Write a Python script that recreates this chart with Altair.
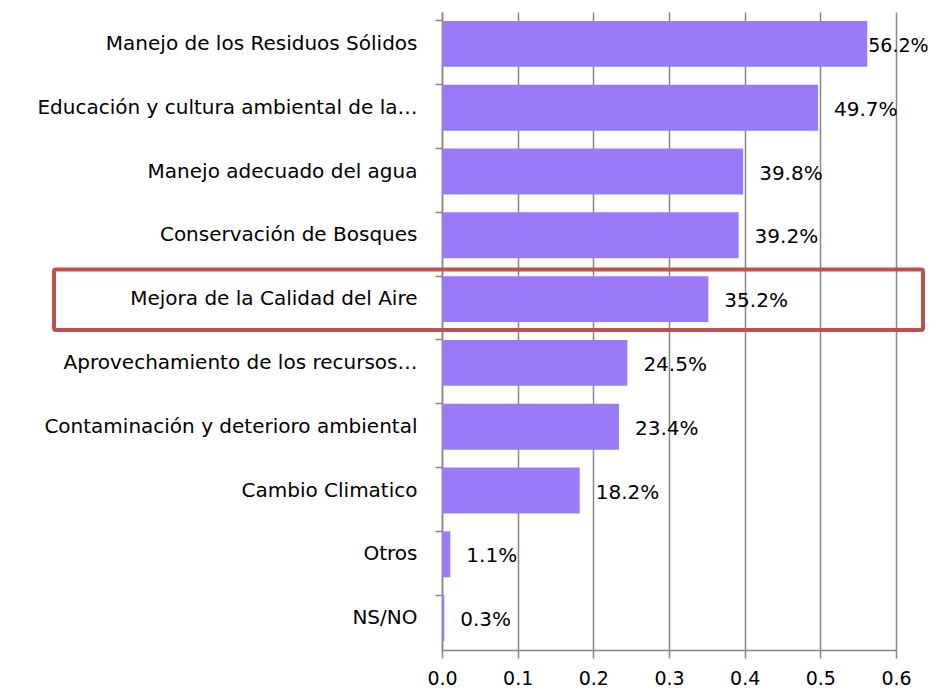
import altair as alt
import pandas as pd

categories = [
    "Manejo de los Residuos Sólidos",
    "Educación y cultura ambiental de la…",
    "Manejo adecuado del agua",
    "Conservación de Bosques",
    "Mejora de la Calidad del Aire",
    "Aprovechamiento de los recursos…",
    "Contaminación y deterioro ambiental",
    "Cambio Climatico",
    "Otros",
    "NS/NO",
]
values = [0.562, 0.497, 0.398, 0.392, 0.352, 0.245, 0.234, 0.182, 0.011, 0.003]
labels = ["56.2%", "49.7%", "39.8%", "39.2%", "35.2%", "24.5%", "23.4%", "18.2%", "1.1%", "0.3%"]

df = pd.DataFrame({"cat": categories, "val": values, "lab": labels})
FONT = "DejaVu Sans"
FS = 20

yscale = alt.Scale(domain=categories, paddingInner=0.28, paddingOuter=0.14)
xscale = alt.Scale(domain=[0, 0.6], nice=False)

base = alt.Chart(df)

bars = base.mark_bar(color="#9B7AF8").encode(
    y=alt.Y("cat:N", scale=yscale, sort=categories, title=None,
            axis=alt.Axis(orient="left", ticks=False, labelPadding=25, labelLimit=500,
                          labelFont=FONT, labelFontSize=FS, labelColor="#000000",
                          domainColor="#868686", domainWidth=1.5)),
    x=alt.X("val:Q", scale=xscale, title=None,
            axis=alt.Axis(values=[0, 0.1, 0.2, 0.3, 0.4, 0.5, 0.6], format=".1f",
                          grid=True, gridColor="#868686", gridWidth=1.5,
                          domainColor="#868686", domainWidth=1.5,
                          tickColor="#868686", tickWidth=1.5, tickSize=8,
                          labelFlush=False, labelOverlap=False,
                          labelPadding=11, labelFont=FONT, labelFontSize=19,
                          labelColor="#000000")),
)

ticks_axis = base.mark_bar(opacity=0).encode(
    y=alt.Y("cat:N", scale=yscale, sort=categories, title=None,
            axis=alt.Axis(orient="left", labels=False, bandPosition=0, tickSize=7,
                          tickColor="#868686", tickWidth=1.5, domain=False)),
    x=alt.X("val:Q", scale=xscale),
)

text_main = base.transform_filter(alt.datum.val < 0.55).mark_text(
    align="left", baseline="middle", dx=16, dy=2, font=FONT, fontSize=FS, color="#000000"
).encode(
    y=alt.Y("cat:N", scale=yscale, sort=categories, axis=None),
    x=alt.X("val:Q", scale=xscale),
    text="lab:N",
)
text_first = base.transform_filter(alt.datum.val >= 0.55).mark_text(
    align="left", baseline="middle", dx=1, dy=2, font=FONT, fontSize=19, color="#000000"
).encode(
    y=alt.Y("cat:N", scale=yscale, sort=categories, axis=None),
    x=alt.X("val:Q", scale=xscale),
    text="lab:N",
)

box = alt.Chart(pd.DataFrame({"k": [0]})).mark_rect(
    fill=None, stroke="#C0504D", strokeWidth=4, cornerRadius=2, clip=False
).encode(
    x=alt.value(-388), x2=alt.value(481), y=alt.value(257.5), y2=alt.value(318)
)

chart = alt.layer(bars, ticks_axis, text_main, text_first, box).resolve_axis(
    y="independent"
).properties(
    width=454, height=638,
    autosize="none",
    padding={"left": 434, "top": 4, "right": 34, "bottom": 39},
).configure_view(stroke=None)

chart.save("out.html", embed_options={"renderer": "svg", "actions": False})
